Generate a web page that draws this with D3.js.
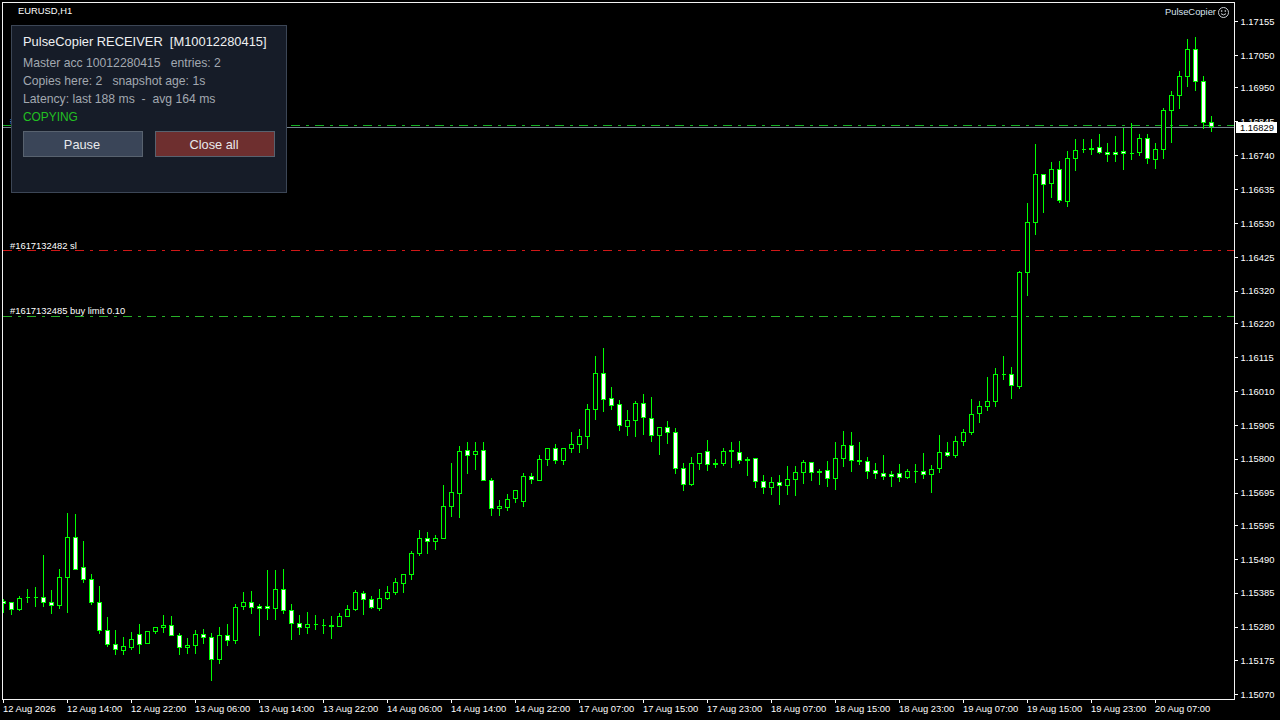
<!DOCTYPE html>
<html><head><meta charset="utf-8">
<script src="https://cdn.jsdelivr.net/npm/d3@7"></script>
<style>
html,body{margin:0;padding:0;background:#000;overflow:hidden}
svg{display:block}
text{white-space:pre}
.small{font-family:"Liberation Sans",Arial,sans-serif;font-size:9.4px;fill:#fff}
.panel{font-family:"Liberation Sans",Arial,sans-serif}
</style></head><body>
<svg id="c" width="1280" height="720"></svg>
<script>
const opens=[1.15358,1.15357,1.15333,1.15373,1.15373,1.15373,1.15357,1.15347,1.15434,1.15558,1.15466,1.15428,1.15357,1.15270,1.15227,1.15208,1.15217,1.15258,1.15229,1.15266,1.15279,1.15286,1.15255,1.15217,1.15223,1.15258,1.15249,1.15180,1.15255,
1.15238,1.15344,1.15357,1.15343,1.15343,1.15338,1.15397,1.15332,1.15292,1.15279,1.15289,1.15286,1.15286,1.15282,1.15313,1.15333,1.15385,1.15366,1.15338,1.15369,1.15387,1.15415,1.15443,1.15508,1.15555,1.15545,
1.15553,1.15653,1.15693,1.15827,1.15814,1.15827,1.15735,1.15647,1.15650,1.15678,1.15668,1.15747,1.15733,1.15798,1.15834,1.15795,1.15833,1.15845,1.15870,1.15953,1.16066,1.15988,1.15970,1.15901,1.15919,
1.15973,1.15926,1.15873,1.15898,1.15883,1.15772,1.15721,1.15786,1.15824,1.15788,1.15786,1.15828,1.15821,1.15800,1.15802,1.15731,1.15712,1.15728,1.15718,1.15736,1.15758,1.15790,1.15763,1.15765,
1.15740,1.15802,1.15843,1.15797,1.15793,1.15765,1.15754,1.15751,1.15756,1.15743,1.15762,1.15762,1.15752,1.15771,1.15821,1.15811,1.15854,1.15882,1.15941,1.15963,1.15978,1.16063,1.16063,
1.16024,1.16377,1.16532,1.16682,1.16653,1.16697,1.16597,1.16730,1.16759,1.16763,1.16765,1.16750,1.16748,1.16751,
1.16746,1.16749,1.16794,1.16728,1.16759,1.16880,1.16926,1.16985,1.17069,1.16970,1.16842];
const highs=[1.15364,1.15357,1.15374,1.15395,1.15402,1.15501,1.15392,1.15457,1.15631,1.15628,1.15544,1.15442,1.15405,1.15309,1.15268,1.15247,1.15262,1.15287,1.15267,1.15280,1.15315,1.15312,1.15259,1.15244,1.15268,1.15271,1.15259,1.15278,1.15287,
1.15349,1.15386,1.15389,1.15349,1.15454,1.15454,1.15457,1.15349,1.15315,1.15324,1.15315,1.15302,1.15312,1.15321,1.15346,1.15392,1.15389,1.15374,1.15395,1.15405,1.15429,1.15444,1.15513,1.15578,1.15572,1.15563,
1.15717,1.15785,1.15838,1.15853,1.15853,1.15853,1.15739,1.15671,1.15689,1.15704,1.15754,1.15757,1.15810,1.15834,1.15844,1.15834,1.15881,1.15893,1.15968,1.16119,1.16141,1.16023,1.15983,1.15952,1.15977,
1.15999,1.15992,1.15898,1.15918,1.15896,1.15785,1.15804,1.15818,1.15859,1.15800,1.15834,1.15850,1.15856,1.15804,1.15802,1.15748,1.15742,1.15748,1.15776,1.15776,1.15797,1.15790,1.15769,1.15794,
1.15850,1.15884,1.15881,1.15853,1.15804,1.15788,1.15810,1.15763,1.15782,1.15767,1.15782,1.15816,1.15779,1.15872,1.15850,1.15869,1.15893,1.15986,1.15977,1.16054,1.16082,1.16119,1.16085,
1.16381,1.16590,1.16773,1.16682,1.16717,1.16723,1.16751,1.16791,1.16791,1.16791,1.16804,1.16776,1.16800,1.16825,
1.16838,1.16804,1.16804,1.16776,1.16885,1.16937,1.17000,1.17098,1.17107,1.16984,1.16860];
const lows=[1.15325,1.15319,1.15330,1.15356,1.15344,1.15344,1.15321,1.15337,1.15325,1.15458,1.15418,1.15349,1.15259,1.15219,1.15194,1.15194,1.15210,1.15197,1.15229,1.15259,1.15262,1.15254,1.15194,1.15197,1.15197,1.15228,1.15114,1.15166,1.15222,
1.15228,1.15333,1.15321,1.15253,1.15302,1.15302,1.15321,1.15241,1.15256,1.15259,1.15271,1.15259,1.15244,1.15282,1.15313,1.15330,1.15318,1.15337,1.15330,1.15364,1.15380,1.15386,1.15426,1.15501,1.15507,1.15519,
1.15553,1.15621,1.15618,1.15754,1.15767,1.15733,1.15624,1.15627,1.15640,1.15667,1.15652,1.15723,1.15733,1.15779,1.15785,1.15782,1.15822,1.15822,1.15832,1.15924,1.15949,1.15955,1.15890,1.15872,1.15869,
1.15875,1.15856,1.15813,1.15847,1.15757,1.15704,1.15717,1.15769,1.15766,1.15773,1.15779,1.15773,1.15785,1.15748,1.15711,1.15695,1.15689,1.15661,1.15692,1.15686,1.15723,1.15735,1.15720,1.15714,
1.15705,1.15776,1.15763,1.15782,1.15739,1.15739,1.15736,1.15714,1.15732,1.15739,1.15729,1.15739,1.15698,1.15760,1.15807,1.15804,1.15841,1.15875,1.15912,1.15952,1.15962,1.16048,1.15989,
1.16020,1.16308,1.16494,1.16565,1.16609,1.16596,1.16581,1.16695,1.16748,1.16742,1.16745,1.16723,1.16720,1.16698,
1.16727,1.16739,1.16714,1.16699,1.16730,1.16779,1.16885,1.16953,1.16940,1.16823,1.16813];
const closes=[1.15352,1.15334,1.15370,1.15373,1.15373,1.15356,1.15347,1.15435,1.15558,1.15458,1.15427,1.15356,1.15269,1.15226,1.15210,1.15221,1.15240,1.15226,1.15267,1.15280,1.15286,1.15254,1.15217,1.15224,1.15258,1.15248,1.15180,1.15255,1.15238,
1.15342,1.15357,1.15341,1.15338,1.15338,1.15397,1.15331,1.15291,1.15279,1.15289,1.15289,1.15286,1.15282,1.15314,1.15335,1.15388,1.15365,1.15341,1.15370,1.15388,1.15419,1.15444,1.15509,1.15555,1.15545,1.15555,
1.15654,1.15697,1.15824,1.15811,1.15824,1.15733,1.15647,1.15654,1.15676,1.15704,1.15747,1.15737,1.15800,1.15834,1.15795,1.15834,1.15846,1.15871,1.15954,1.16066,1.15984,1.15966,1.15904,1.15920,1.15973,
1.15928,1.15873,1.15898,1.15882,1.15770,1.15721,1.15787,1.15818,1.15782,1.15783,1.15824,1.15823,1.15795,1.15795,1.15730,1.15712,1.15728,1.15718,1.15737,1.15759,1.15790,1.15758,1.15758,1.15740,
1.15803,1.15843,1.15796,1.15792,1.15761,1.15755,1.15745,1.15746,1.15743,1.15762,1.15762,1.15752,1.15769,1.15821,1.15811,1.15855,1.15883,1.15939,1.15964,1.15979,1.16063,1.16063,1.16028,
1.16378,1.16533,1.16682,1.16651,1.16697,1.16600,1.16731,1.16756,1.16759,1.16758,1.16749,1.16743,1.16743,1.16746,
1.16746,1.16794,1.16732,1.16760,1.16880,1.16927,1.16986,1.17069,1.16970,1.16843,1.16829];

const priceTicks=[1.17155,1.17050,1.16950,1.16845,1.16740,1.16635,1.16530,1.16425,1.16320,1.16220,1.16115,1.16010,1.15905,1.15800,1.15695,1.15595,1.15490,1.15385,1.15280,1.15175,1.15070];
const timeLabels=["12 Aug 2026","12 Aug 14:00","12 Aug 22:00","13 Aug 06:00","13 Aug 14:00","13 Aug 22:00","14 Aug 06:00","14 Aug 14:00","14 Aug 22:00","17 Aug 07:00","17 Aug 15:00","17 Aug 23:00","18 Aug 07:00","18 Aug 15:00","18 Aug 23:00","19 Aug 07:00","19 Aug 15:00","19 Aug 23:00","20 Aug 07:00"];
const barsPerLabel=8;
const currentPrice=1.16829, entryPrice=1.16832, slPrice=1.16445, limitPrice=1.16243;

const svg=d3.select("#c");
const x=d3.scaleLinear().domain([0,opens.length-1]).range([3,1211]);
const y=d3.scaleLinear().domain([1.17155,1.15070]).range([21.5,694.9]);
const px=v=>Math.round(y(v)-0.5)+0.5;

svg.append("defs").append("clipPath").attr("id","plot").append("rect")
  .attr("x",3).attr("y",3).attr("width",1231).attr("height",696);

// axes
const yAxis=svg.append("g").attr("transform","translate(1235,0)")
  .call(d3.axisRight(y).tickValues(priceTicks).tickFormat(d3.format(".5f")).tickSize(3).tickPadding(2).offset(0));
const xAxis=svg.append("g").attr("transform","translate(0,700)")
  .call(d3.axisBottom(x).tickValues(timeLabels.map((_,i)=>i*barsPerLabel)).tickFormat(i=>timeLabels[i/barsPerLabel]).tickSize(3).offset(0.5));
[yAxis,xAxis].forEach(a=>{
  a.select(".domain").remove();
  a.selectAll("line").attr("stroke","#fff").attr("shape-rendering","crispEdges");
  a.selectAll("text").attr("class","small").attr("fill","#fff");
});
xAxis.selectAll("text").attr("text-anchor","start").attr("x",-0.5).attr("y",5).attr("dy","7.2px");
yAxis.selectAll("text").attr("x",5.5).attr("dy","3.3px");

const plot=svg.append("g").attr("clip-path","url(#plot)");

// order and price lines
const lines=[[slPrice,"#d01818"],[limitPrice,"#28b028"],[entryPrice,"#14b024"]];
plot.selectAll("line.ord").data(lines).join("line").attr("class","ord")
  .attr("x1",3).attr("x2",1234).attr("y1",d=>px(d[0])).attr("y2",d=>px(d[0]))
  .attr("stroke",d=>d[1]).attr("stroke-dasharray","9 6 3 6").attr("shape-rendering","crispEdges");
plot.append("line").attr("x1",3).attr("x2",1234)
  .attr("y1",px(currentPrice)+1).attr("y2",px(currentPrice)+1)
  .attr("stroke","#74848f").attr("shape-rendering","crispEdges");

// candles
const idx=d3.range(opens.length);
plot.append("g").selectAll("line").data(idx).join("line")
  .attr("x1",i=>Math.round(x(i))+0.5).attr("x2",i=>Math.round(x(i))+0.5)
  .attr("y1",i=>px(highs[i])-0.5).attr("y2",i=>px(lows[i])+0.5)
  .attr("stroke","#00ff00").attr("shape-rendering","crispEdges");
plot.append("g").selectAll("path").data(idx).join("path")
  .attr("d",i=>{
    const l=Math.round(x(i))-1.5, t=px(Math.max(opens[i],closes[i])), b=px(Math.min(opens[i],closes[i]));
    return `M${l},${t}H${l+4}V${b}H${l}Z`;
  })
  .attr("fill",i=>closes[i]<opens[i]?"#fff":"#000")
  .attr("stroke","#00ff00").attr("shape-rendering","crispEdges");

// frame
svg.append("rect").attr("x",2.5).attr("y",2.5).attr("width",1232).attr("height",697)
  .attr("fill","none").attr("stroke","#f2f2f2").attr("shape-rendering","crispEdges");

// current price tag
svg.append("rect").attr("x",1236).attr("y",122).attr("width",41).attr("height",11).attr("fill","#fff");
svg.append("text").attr("class","small").style("fill","#000").attr("x",1240).attr("y",131).text(d3.format(".5f")(currentPrice));

// chart labels
const small=(t,xx,yy,anchor)=>svg.append("text").attr("class","small").attr("x",xx).attr("y",yy).attr("text-anchor",anchor||"start").text(t);
small("EURUSD,H1",18,14);
small("PulseCopier",1216,15,"end").style("fill","#d8e4ee");
small("#1617132482 sl",10,249);
small("#1617132485 buy limit 0.10",10,314);
small("#",10,124).style("fill","#9cc8e8");

// smiley
const sm=svg.append("g").attr("transform","translate(1223.5,12.5)").attr("fill","none").attr("stroke","#c8ced4");
sm.append("circle").attr("r",5);
sm.append("circle").attr("cx",-1.8).attr("cy",-1.5).attr("r",0.5);
sm.append("circle").attr("cx",1.8).attr("cy",-1.5).attr("r",0.5);
sm.append("path").attr("d","M-2.5,1.2 Q0,3.6 2.5,1.2");

// info panel
const p=svg.append("g").attr("class","panel");
p.append("rect").attr("x",11.5).attr("y",25.5).attr("width",275).attr("height",167)
  .attr("fill","#161c28").attr("stroke","#3c4656").attr("shape-rendering","crispEdges");
p.append("text").attr("x",23).attr("y",46).attr("font-size",12.9).attr("fill","#eef0f2").text("PulseCopier RECEIVER  [M10012280415]");
[["Master acc 10012280415   entries: 2",67],["Copies here: 2   snapshot age: 1s",85],["Latency: last 188 ms  -  avg 164 ms",103]].forEach(d=>{
  p.append("text").attr("x",23).attr("y",d[1]).attr("font-size",12.2).attr("fill","#a2a8b0").text(d[0]);
});
p.append("text").attr("x",23).attr("y",121).attr("font-size",11.9).attr("fill","#22c022").text("COPYING");
[["Pause",23,"#3a4558"],["Close all",155,"#6e2f2f"]].forEach(d=>{
  p.append("rect").attr("x",d[1]+0.5).attr("y",131.5).attr("width",119).attr("height",25)
    .attr("fill",d[2]).attr("stroke","#58626f").attr("shape-rendering","crispEdges");
  p.append("text").attr("x",d[1]+59).attr("y",149).attr("text-anchor","middle").attr("font-size",12.8).attr("fill","#e8eaec").text(d[0]);
});
</script>
</body></html>
